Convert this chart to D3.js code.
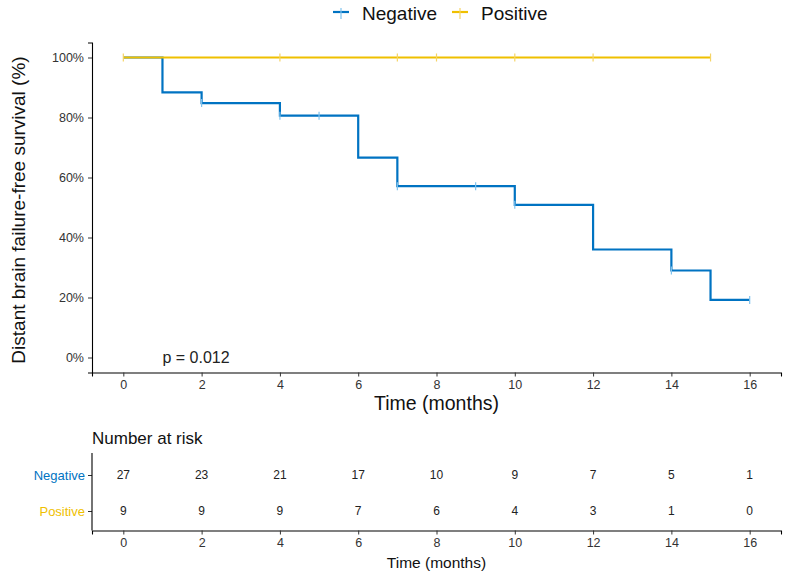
<!DOCTYPE html>
<html><head><meta charset="utf-8">
<script src="https://cdn.jsdelivr.net/npm/d3@7"></script>
<style>body{margin:0;background:#fff;} text{font-family:Arial,"Liberation Sans",sans-serif;}</style>
</head><body>
<svg id="c" width="788" height="576"></svg>
<script>
const groups = ["Negative", "Positive"];
const colors = ["#0073C2", "#EFC000"];
const censorColors = ["#7FC3EE", "#F5D466"];
// step curves: [time, survival]
const negTimes = [0, 1, 2, 4, 6, 7, 10, 12, 14, 15, 16];
const negSurv  = [1.0, 0.884, 0.848, 0.806, 0.666, 0.571, 0.509, 0.360, 0.290, 0.192, 0.192];
const negCensor = [2, 4, 5, 7, 9, 10, 14, 16];
const posTimes = [0, 15];
const posSurv  = [1.0, 1.0];
const posCensor = [0, 4, 7, 8, 10, 12, 15];
const xTicks = [0, 2, 4, 6, 8, 10, 12, 14, 16];
const yTicks = [0, 0.2, 0.4, 0.6, 0.8, 1.0];
const riskNeg = [27, 23, 21, 17, 10, 9, 7, 5, 1];
const riskPos = [9, 9, 9, 7, 6, 4, 3, 1, 0];
const pText = "p = 0.012";

const svg = d3.select("#c");
const x = d3.scaleLinear().domain([-0.8, 16.8]).range([92, 781]);
const y = d3.scaleLinear().domain([-0.05, 1.05]).range([372.5, 42.5]);
const axisCol = "#000";
const tickTextCol = "#333";
const tickFs = 12.5;

// Y axis
const gy = svg.append("g").attr("transform", "translate(92,0)")
  .call(d3.axisLeft(y).tickValues(yTicks).tickFormat(d => Math.round(d*100) + "%").tickSizeOuter(0).tickSize(4).tickPadding(4));
gy.select(".domain").attr("stroke", axisCol).attr("stroke-width", 1.1);
gy.selectAll(".tick line").attr("stroke", "#333");
gy.selectAll(".tick text").attr("font-size", tickFs).attr("fill", tickTextCol);
// X axis
const gx = svg.append("g").attr("transform", "translate(0,372.5)")
  .call(d3.axisBottom(x).tickValues(xTicks).tickSizeOuter(0).tickSize(4).tickPadding(4));
gx.select(".domain").attr("stroke", axisCol).attr("stroke-width", 1.1);
gx.selectAll(".tick line").attr("stroke", "#333");
gx.selectAll(".tick text").attr("font-size", tickFs).attr("fill", tickTextCol);

// curves
const line = d3.line().x(d => x(d[0])).y(d => y(d[1])).curve(d3.curveStepAfter);
const series = [
  {t: negTimes, s: negSurv, c: negCensor},
  {t: posTimes, s: posSurv, c: posCensor}
];
series.forEach((sr, i) => {
  const pts = sr.t.map((t, k) => [t, sr.s[k]]);
  svg.append("path").datum(pts).attr("d", line).attr("fill", "none")
    .attr("stroke", colors[i]).attr("stroke-width", 2.2);
});
series.forEach((sr, i) => {
  const survAt = t => { let v = sr.s[0]; sr.t.forEach((tt, k) => { if (tt <= t) v = sr.s[k]; }); return v; };
  svg.append("g").selectAll("line").data(sr.c).join("line")
    .attr("x1", d => x(d)).attr("x2", d => x(d))
    .attr("y1", d => y(survAt(d)) - 4).attr("y2", d => y(survAt(d)) + 4)
    .attr("stroke", censorColors[i]).attr("stroke-width", 1.2);
});

// p value
svg.append("text").attr("x", x(1)).attr("y", y(0)).attr("dy", "0.35em")
  .attr("font-size", 16).attr("fill", "#222").text(pText);

// axis titles
svg.append("text").attr("transform", "translate(25,210) rotate(-90)").attr("text-anchor", "middle")
  .attr("font-size", 19).attr("fill", "#111").text("Distant brain failure-free survival (%)");
svg.append("text").attr("x", x(8)).attr("y", 410).attr("text-anchor", "middle")
  .attr("font-size", 19.5).attr("fill", "#111").text("Time (months)");

// legend
const lg = svg.append("g");
const keyX = [333, 452];
const textX = [362, 481];
groups.forEach((g, i) => {
  const cx = keyX[i];
  lg.append("line").attr("x1", cx).attr("x2", cx + 16).attr("y1", 12).attr("y2", 12).attr("stroke", colors[i]).attr("stroke-width", 2.2);
  lg.append("line").attr("x1", cx + 8).attr("x2", cx + 8).attr("y1", 8).attr("y2", 19).attr("stroke", censorColors[i]).attr("stroke-width", 1.2);
  lg.append("text").attr("x", textX[i]).attr("y", 19.5).attr("font-size", 19).attr("fill", "#111").text(g);
});

// risk table
svg.append("text").attr("x", 92).attr("y", 438).attr("dy", "0.35em").attr("font-size", 17).attr("fill", "#111").text("Number at risk");
const yr = d3.scalePoint().domain(groups).range([475, 511]);
const gry = svg.append("g").attr("transform", "translate(92,0)")
  .call(d3.axisLeft(yr).tickSize(4).tickPadding(3));
gry.select(".domain").remove();
gry.append("line").attr("x1", 0).attr("x2", 0).attr("y1", 453).attr("y2", 530.5).attr("stroke", axisCol).attr("stroke-width", 1.1);
gry.selectAll(".tick line").attr("stroke", "#333");
gry.selectAll(".tick text").attr("font-size", 13).attr("fill", (d, i) => colors[i]);
const grx = svg.append("g").attr("transform", "translate(0,530.5)")
  .call(d3.axisBottom(x).tickValues(xTicks).tickSizeOuter(0).tickSize(4).tickPadding(4));
grx.select(".domain").attr("stroke", axisCol).attr("stroke-width", 1.1);
grx.selectAll(".tick line").attr("stroke", "#333");
grx.selectAll(".tick text").attr("font-size", tickFs).attr("fill", tickTextCol);
svg.append("text").attr("x", x(8)).attr("y", 563).attr("dy", "0.35em").attr("text-anchor", "middle")
  .attr("font-size", 15.5).attr("fill", "#111").text("Time (months)");
[riskNeg, riskPos].forEach((arr, i) => {
  svg.append("g").selectAll("text").data(arr).join("text")
    .attr("x", (d, k) => x(xTicks[k])).attr("y", yr(groups[i])).attr("dy", "0.35em")
    .attr("text-anchor", "middle").attr("font-size", 12).attr("fill", "#222").text(d => d);
});
</script>
</body></html>
